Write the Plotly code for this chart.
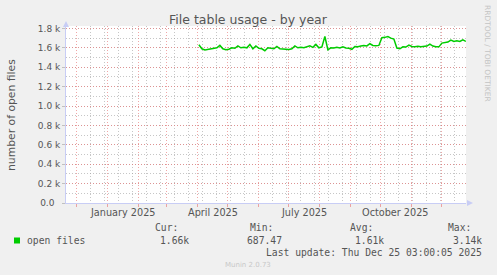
import plotly.graph_objects as go
import pandas as pd

# ---------------- data ----------------
series_name = "open files"
start_date = "2025-04-02"
step_days = 3
open_files = [
    1632, 1590, 1578, 1582, 1590, 1595, 1600, 1625, 1590, 1580,
    1585, 1600, 1595, 1620, 1600, 1605, 1600, 1635, 1590, 1620,
    1595, 1590, 1570, 1600, 1595, 1590, 1615, 1590, 1588, 1585,
    1583, 1590, 1620, 1600, 1605, 1600, 1610, 1620, 1605, 1635,
    1600, 1610, 1717, 1580, 1600, 1598, 1605, 1598, 1611, 1598,
    1595, 1585, 1614, 1610, 1618, 1625, 1620, 1642, 1625, 1621,
    1625, 1705, 1708, 1717, 1700, 1690, 1598, 1590, 1611, 1608,
    1628, 1614, 1612, 1615, 1610, 1614, 1618, 1639, 1618, 1612,
    1610, 1649, 1655, 1659, 1680, 1666, 1673, 1666, 1683, 1666,
]
x_start = "2024-11-20 03:00"
x_end = "2025-12-25 03:00"
y_tickvals = [0, 200, 400, 600, 800, 1000, 1200, 1400, 1600, 1800]
y_ticktext = ["0.0\u00a0\u00a0", "0.2 k", "0.4 k", "0.6 k", "0.8 k", "1.0 k",
              "1.2 k", "1.4 k", "1.6 k", "1.8 k"]
x_label_dates = ["2025-01-16", "2025-04-16", "2025-07-16", "2025-10-16"]
x_label_text = ["January 2025", "April 2025", "July 2025", "October 2025"]
stat_names = ["Cur:", "Min:", "Avg:", "Max:"]
stat_values = ["1.66k", "687.47", "1.61k", "3.14k"]
title_text = "File table usage - by year"
y_title = "number of open files"
last_update = "Last update: Thu Dec 25 03:00:05 2025"
munin_version = "Munin 2.0.73"
side_text = "RRDTOOL / TOBI OETIKER"

# ---------------- layout geometry ----------------
W, H = 497, 275
L, R, T, B = 66, 31, 26, 72
PW = W - L - R
PH = H - T - B


def xp(px):
    return (px - L) / PW


def yp(py):
    return (H - B - py) / PH


FONT = "DejaVu Sans"
MONO = "DejaVu Sans Mono"
FC = "#555555"
AXIS_C = "#C8CDF5"
MGRID = "rgba(232,120,120,0.65)"
GRID = "rgba(160,160,160,0.6)"

dates = pd.date_range(start_date, periods=len(open_files), freq=f"{step_days}D")

fig = go.Figure()
fig.add_trace(go.Scatter(x=dates, y=open_files, mode="lines",
                         line=dict(color="#00CC00", width=1.5),
                         showlegend=False, hoverinfo="skip"))

fig.update_layout(
    width=W, height=H,
    margin=dict(l=L, r=R, t=T, b=B, pad=0),
    paper_bgcolor="#F0F0F0", plot_bgcolor="#FFFFFF",
    showlegend=False,
    font=dict(family=FONT, color=FC),
)

fig.update_xaxes(
    type="date", range=[x_start, x_end],
    showgrid=True, gridcolor=MGRID, griddash="1px,2px", gridwidth=1,
    dtick="M1", tick0="2024-12-01",
    showticklabels=False, ticks="outside", ticklen=3, tickcolor=MGRID,
    showline=True, linecolor=AXIS_C, linewidth=1, zeroline=False,
    minor=dict(dtick=14 * 86400000, tick0="2024-12-01", showgrid=True,
               gridcolor=GRID, griddash="1px,2px", gridwidth=1, ticks=""),
)
fig.update_yaxes(
    range=[0, 1825], tickmode="array", tickvals=y_tickvals, ticktext=y_ticktext,
    showgrid=True, gridcolor=MGRID, griddash="1px,2px", gridwidth=1,
    ticks="outside", ticklen=3, tickcolor=GRID,
    tickfont=dict(family=FONT, size=9, color=FC),
    showline=True, linecolor=AXIS_C, linewidth=1, zeroline=False,
    minor=dict(dtick=100, showgrid=True, gridcolor=GRID, griddash="1px,2px",
               gridwidth=1, ticks=""),
)

ann = []
# x labels
for d, t in zip(x_label_dates, x_label_text):
    ann.append(dict(x=d, xref="x", y=yp(212.5), yref="paper", text=t,
                    showarrow=False, xanchor="center", yanchor="middle",
                    font=dict(family=FONT, size=9.7, color=FC)))
# title
ann.append(dict(x=xp(248.5), xref="paper", y=yp(19), yref="paper", text=title_text,
                showarrow=False, xanchor="center", yanchor="middle",
                font=dict(family=FONT, size=12.5, color=FC)))
# y title
ann.append(dict(x=xp(12), xref="paper", y=yp(115), yref="paper", text=y_title,
                showarrow=False, xanchor="center", yanchor="middle", textangle=-90,
                font=dict(family=FONT, size=10.8, color=FC)))
# side text
ann.append(dict(x=xp(488), xref="paper", y=yp(53), yref="paper", text=side_text,
                showarrow=False, xanchor="center", yanchor="middle", textangle=90,
                font=dict(family=FONT, size=7.5, color="#C4C4C4")))
# legend
ann.append(dict(x=xp(25), xref="paper", y=yp(240), yref="paper", text=series_name,
                showarrow=False, xanchor="left", yanchor="middle",
                font=dict(family=MONO, size=9.7, color=FC)))
head_x = [153, 248, 348, 446]
val_x = [191, 284, 386, 484]
for hx, vx, n, v in zip(head_x, val_x, stat_names, stat_values):
    ann.append(dict(x=xp(hx), xref="paper", y=yp(227.5), yref="paper", text=n,
                    showarrow=False, xanchor="left", yanchor="middle",
                    font=dict(family=MONO, size=9.7, color=FC)))
    ann.append(dict(x=xp(vx), xref="paper", y=yp(240), yref="paper", text=v,
                    showarrow=False, xanchor="right", yanchor="middle",
                    font=dict(family=MONO, size=9.7, color=FC)))
ann.append(dict(x=xp(483.5), xref="paper", y=yp(252.5), yref="paper", text=last_update,
                showarrow=False, xanchor="right", yanchor="middle",
                font=dict(family=MONO, size=9.7, color=FC)))
ann.append(dict(x=xp(248), xref="paper", y=yp(264.5), yref="paper", text=munin_version,
                showarrow=False, xanchor="center", yanchor="middle",
                font=dict(family=FONT, size=7, color="#C8C8C8")))
fig.update_layout(annotations=ann)

shapes = []
# legend swatch
shapes.append(dict(type="rect", xref="paper", yref="paper",
                   x0=xp(14), x1=xp(20), y0=yp(243.5), y1=yp(237.5),
                   fillcolor="#00CC00", line=dict(width=0)))
# axis arrows
shapes.append(dict(type="path", xref="paper", yref="paper",
                   path=f"M {xp(63)},{yp(27)} L {xp(69)},{yp(27)} L {xp(66)},{yp(21)} Z",
                   fillcolor=AXIS_C, line=dict(width=0)))
shapes.append(dict(type="path", xref="paper", yref="paper",
                   path=f"M {xp(467)},{yp(200)} L {xp(467)},{yp(206)} L {xp(473)},{yp(203)} Z",
                   fillcolor=AXIS_C, line=dict(width=0)))
fig.update_layout(shapes=shapes)

fig.write_html("out.html")
